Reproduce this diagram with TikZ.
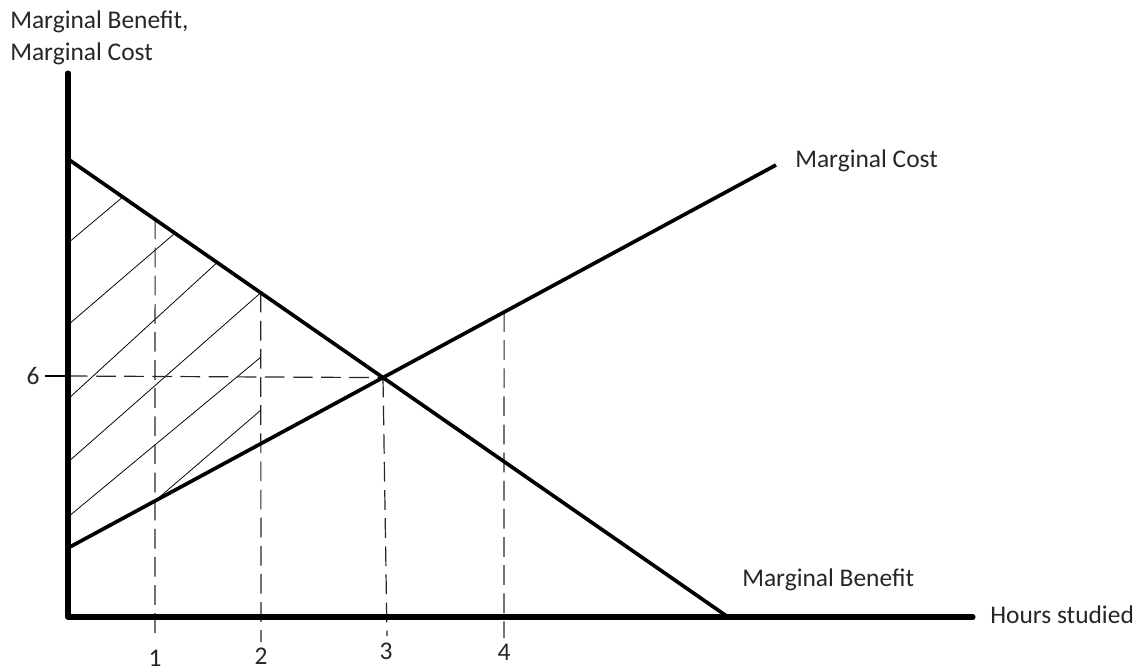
\documentclass[tikz,border=0pt]{standalone}
\usepackage{fontspec}
\setmainfont{Carlito}
\usetikzlibrary{calc}
\begin{document}
\begin{tikzpicture}[x=0.025cm,y=-0.025cm,
  axis/.style={line width=3.6pt,line cap=round,line join=round},
  curve/.style={line width=2.6pt},
  guide/.style={line width=0.85pt,black!85,dash pattern=on 14pt off 6pt},
  hatch/.style={line width=0.55pt},
  lbl/.style={anchor=base west,inner sep=0pt,align=left,text=black!85},
  num/.style={anchor=center,inner sep=0pt,text=black!85}]
\fontsize{18.1}{22.7}\selectfont
\useasboundingbox (0,0) rectangle (1140,672);

\coordinate (o) at (68,617);
\coordinate (ytop) at (68,73);
\coordinate (xend) at (973,617);
\coordinate (mbA) at (68,159);
\coordinate (mbB) at (728,617);
\coordinate (mcA) at (68,548);
\coordinate (mcB) at (776,165);
\coordinate (e) at (intersection of mbA--mbB and mcA--mcB);

\coordinate (g1) at ($(mbA)!0.132!(mbB)$);
\coordinate (g2) at ($(mbA)!0.292!(mbB)$);
\coordinate (g4) at ($(mcA)!0.616!(mcB)$);
\coordinate (b1) at (155,638);
\coordinate (b2) at (261,642);
\coordinate (b3) at (387,636);
\coordinate (b4) at (504,638);
\coordinate (y6) at (68,376);

\draw[hatch] (68,243) -- ($(mbA)!0.083!(mbB)$);
\draw[hatch] (68,325) -- ($(mbA)!0.162!(mbB)$);
\draw[hatch] (68,399) -- ($(mbA)!0.226!(mbB)$);
\draw[hatch] (68,462) -- (g2);
\draw[hatch] (68,517) -- (261,357);
\draw[hatch] ($(mcA)!0.123!(mcB)$) -- (261,410);

\draw[guide] (g1) -- (b1);
\draw[guide] (g2) -- (b2);
\draw[guide] (e) -- (b3);
\draw[guide] (g4) -- (b4);
\draw[guide] (y6) -- (e);

\draw[curve] (mbA) -- (mbB);
\draw[curve] (mcA) -- (mcB);
\draw[axis] (ytop) -- (o) -- (xend);

\node[num,inner xsep=4pt] (six) at (33,376) {6};
\draw[line width=0.8pt] (six.east) -- (y6);
\node[num] (n1) at (155,658) {1};
\node[num] (n2) at (261,656) {2};
\node[num] (n3) at (386,651) {3};
\node[num] (n4) at (504,652) {4};

\node[lbl] (ylabel) at (10,60) {Marginal Benefit,\\Marginal Cost};
\node[lbl] (mclabel) at (795,167) {Marginal Cost};
\node[lbl] (mblabel) at (742,586) {Marginal Benefit};
\node[lbl] (xlabel) at (990,623) {Hours studied};
\end{tikzpicture}
\end{document}
